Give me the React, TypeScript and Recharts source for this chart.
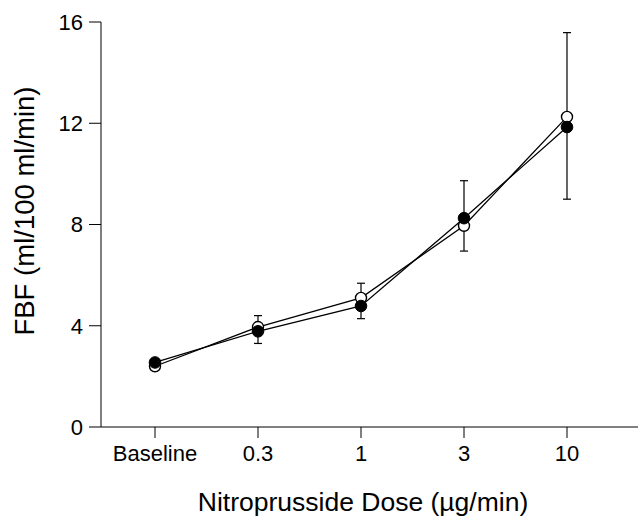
import React from "react";
import { ErrorBar, Label, Line, LineChart, XAxis, YAxis } from "recharts";

// dose categories on the x axis
const DOSES = ["Baseline", "0.3", "1", "3", "10"];
// mean FBF, open circles and filled circles
const OPEN_MEAN = [2.4, 3.95, 5.1, 7.95, 12.25];
const FILLED_MEAN = [2.55, 3.78, 4.78, 8.25, 11.85];
// one-sided error bars [below, above]
const OPEN_ERR = [[0, 0], [0, 0.45], [0, 0.58], [1.0, 0], [0, 3.33]];
const FILLED_ERR = [[0, 0], [0.48, 0], [0.5, 0], [0, 1.48], [2.85, 0]];
const Y_TICKS = [0, 4, 8, 12, 16];

const FONT = "'Liberation Sans', Arial, Helvetica, sans-serif";

const data = DOSES.map((dose, i) => ({
  dose,
  open: OPEN_MEAN[i],
  filled: FILLED_MEAN[i],
  openErr: OPEN_ERR[i],
  filledErr: FILLED_ERR[i],
}));

const TICK = { fontSize: 22, fill: "#000", fontFamily: FONT };

export default function App() {
  return (
    <div style={{ width: 638, height: 516, background: "#fff", overflow: "hidden" }}>
      <style>{"body{margin:0;overflow:hidden}"}</style>
      <LineChart
        width={638}
        height={516}
        data={data}
        margin={{ top: 22, right: 0, bottom: 0, left: 0 }}
      >
        <XAxis
          dataKey="dose"
          height={89}
          padding={{ left: 54, right: 71 }}
          stroke="#000"
          tick={TICK}
          tickSize={11}
          tickMargin={7}
          interval={0}
        >
          <Label
            content={() => (
              <text
                x={363}
                y={511}
                textAnchor="middle"
                fontSize={26.5}
                fontFamily={FONT}
                fill="#000"
              >
                Nitroprusside Dose (µg/min)
              </text>
            )}
          />
        </XAxis>
        <YAxis
          width={101}
          domain={[0, 16]}
          ticks={Y_TICKS}
          stroke="#000"
          tick={TICK}
          tickSize={12}
          tickMargin={6}
        >
          <Label
            content={() => (
              <text
                x={34}
                y={211}
                transform="rotate(-90 34 211)"
                textAnchor="middle"
                fontSize={27.5}
                fontFamily={FONT}
                fill="#000"
              >
                FBF (ml/100 ml/min)
              </text>
            )}
          />
        </YAxis>
        <Line
          dataKey="open"
          stroke="#000"
          strokeWidth={1.3}
          isAnimationActive={false}
          dot={{ r: 5.5, fill: "#fff", stroke: "#000", strokeWidth: 1.4 }}
        >
          <ErrorBar dataKey="openErr" direction="y" width={4} stroke="#000" strokeWidth={1.2} />
        </Line>
        <Line
          dataKey="filled"
          stroke="#000"
          strokeWidth={1.3}
          isAnimationActive={false}
          dot={{ r: 5.8, fill: "#000", stroke: "#000", strokeWidth: 1 }}
        >
          <ErrorBar dataKey="filledErr" direction="y" width={4} stroke="#000" strokeWidth={1.2} />
        </Line>
      </LineChart>
    </div>
  );
}
